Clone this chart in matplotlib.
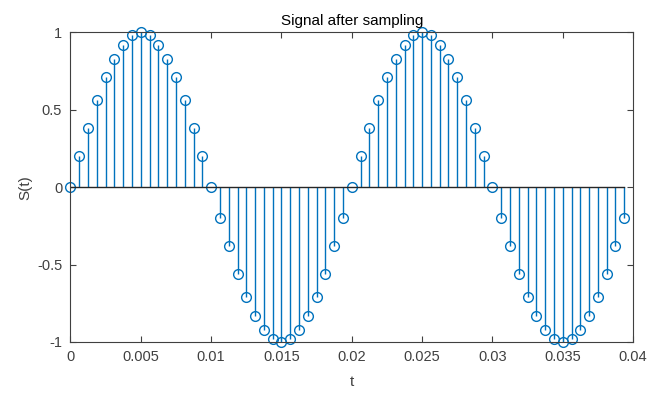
import numpy as np
import matplotlib.pyplot as plt

plt.rcParams['font.family'] = ['Liberation Sans', 'DejaVu Sans']

t = [0.0, 0.000625, 0.00125, 0.001875, 0.0025, 0.003125, 0.00375, 0.004375,
     0.005, 0.005625, 0.00625, 0.006875, 0.0075, 0.008125, 0.00875, 0.009375,
     0.01, 0.010625, 0.01125, 0.011875, 0.0125, 0.013125, 0.01375, 0.014375,
     0.015, 0.015625, 0.01625, 0.016875, 0.0175, 0.018125, 0.01875, 0.019375,
     0.02, 0.020625, 0.02125, 0.021875, 0.0225, 0.023125, 0.02375, 0.024375,
     0.025, 0.025625, 0.02625, 0.026875, 0.0275, 0.028125, 0.02875, 0.029375,
     0.03, 0.030625, 0.03125, 0.031875, 0.0325, 0.033125, 0.03375, 0.034375,
     0.035, 0.035625, 0.03625, 0.036875, 0.0375, 0.038125, 0.03875, 0.039375]
s = [0.0, 0.2, 0.38, 0.56, 0.71, 0.83, 0.92, 0.98,
     1.0, 0.98, 0.92, 0.83, 0.71, 0.56, 0.38, 0.2,
     0.0, -0.2, -0.38, -0.56, -0.71, -0.83, -0.92, -0.98,
     -1.0, -0.98, -0.92, -0.83, -0.71, -0.56, -0.38, -0.2,
     0.0, 0.2, 0.38, 0.56, 0.71, 0.83, 0.92, 0.98,
     1.0, 0.98, 0.92, 0.83, 0.71, 0.56, 0.38, 0.2,
     0.0, -0.2, -0.38, -0.56, -0.71, -0.83, -0.92, -0.98,
     -1.0, -0.98, -0.92, -0.83, -0.71, -0.56, -0.38, -0.2]
xticks = [0, 0.005, 0.01, 0.015, 0.02, 0.025, 0.03, 0.035, 0.04]
xticklabels = ['0', '0.005', '0.01', '0.015', '0.02', '0.025', '0.03', '0.035', '0.04']
yticks = [-1, -0.5, 0, 0.5, 1]
yticklabels = ['-1', '-0.5', '0', '0.5', '1']

blue = '#0072BD'
grey = '#404040'

fig = plt.figure(figsize=(6.65, 3.94), dpi=100)
ax = fig.add_axes([0.106, 0.132, 0.846, 0.786])

ml, sl, bl = ax.stem(t, s, basefmt='-')
plt.setp(sl, color=blue, linewidth=1.0)
plt.setp(ml, color=blue, marker='o', markersize=7, markerfacecolor='none',
         markeredgewidth=1.0, clip_on=False)
plt.setp(bl, color='#262626', linewidth=1.0)

ax.set_xlim(0, 0.04)
ax.set_ylim(-1, 1)
ax.set_xticks(xticks)
ax.set_xticklabels(xticklabels)
ax.set_yticks(yticks)
ax.set_yticklabels(yticklabels)
ax.tick_params(direction='in', length=4, width=0.8, colors=grey, labelsize=10.5,
               top=True, right=True, labeltop=False, labelright=False, pad=6)
for sp in ax.spines.values():
    sp.set_color(grey)
    sp.set_linewidth(0.8)

ax.set_title('Signal after sampling', fontsize=11, color='black', pad=5)
ax.set_xlabel('t', fontsize=11, color=grey, labelpad=8)
ax.set_ylabel('S(t)', fontsize=11, color=grey, labelpad=3)

fig.savefig('out.png', dpi=100)
